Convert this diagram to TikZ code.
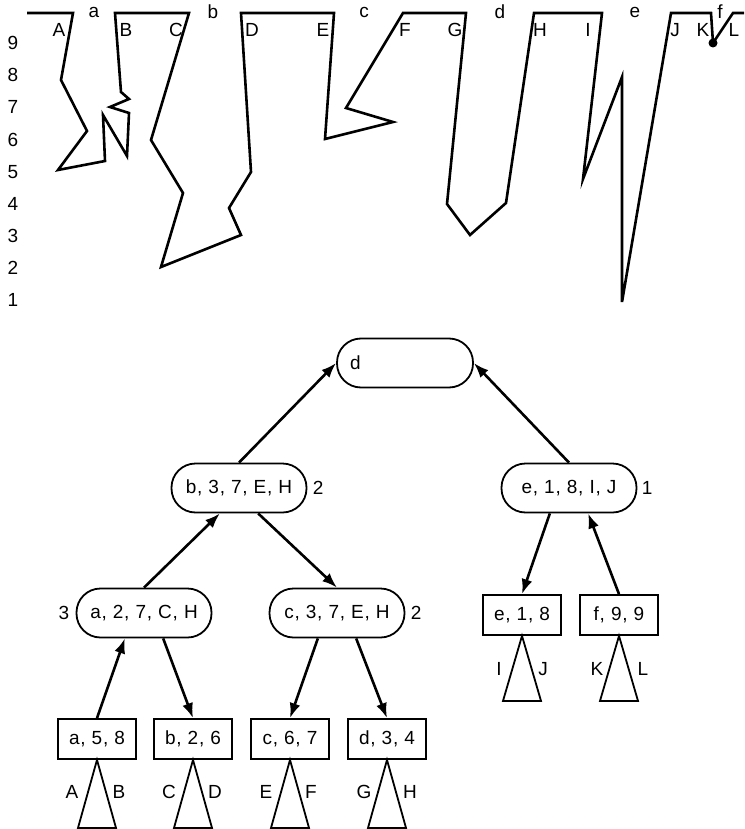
\documentclass[tikz,border=0pt]{standalone}
\usepackage{fontspec}
\setmainfont{Liberation Sans}[LetterSpace=4]
\usepackage{tikz}
\usetikzlibrary{arrows.meta}
\tikzset{
         profile/.style={line width=2.6pt,line join=miter},
         oval/.style={draw,line width=1.8pt,rounded corners=24pt,minimum width=135pt,minimum height=49pt},
         leafbox/.style={draw,line width=1.8pt,minimum width=78pt,minimum height=40pt,inner sep=2pt},
         link/.style={line width=2.6pt,-{Latex[length=15pt,width=11pt]}},
         fan/.style={line width=1.8pt}
        }

\begin{document}
\begin{tikzpicture}[x=1pt,y=-1pt,font=\fontsize{19}{22}\selectfont]
\useasboundingbox (0,0) rectangle (744,829);
% terrain profile
\draw[profile](27,13)--(73,13)--(61,80)--(87,131)--(58,170)--(105,161)--(103,115)--(127,156)
  --(129,113)--(110,107)--(129,99)--(121,92)--(115,13)--(189,13)--(151,140)--(183,193)
  --(161,267)--(241,235)--(229,208)--(251,172)--(241,13)--(334,13)--(325,139)--(393,122)
  --(346,108)--(403,13)--(466,13)--(447,204)--(470,235)--(506,203)--(534,13)--(602,13)
  --(583,179)--(622,77)--(622,302)--(671,13)--(711,13)--(713,43)--(733,13)--(744,13);
\fill(713,43) circle (4.5);
% heights
\node(h9) at (13,43){9};
\node(h8) at (13,75){8};
\node(h7) at (13,107){7};
\node(h6) at (13,140){6};
\node(h5) at (13,172){5};
\node(h4) at (13,204){4};
\node(h3) at (13,236){3};
\node(h2) at (13,268){2};
\node(h1) at (13,300){1};
% pieces
\node(pa) at (94,12){a};
\node(pb) at (213,12){b};
\node(pc) at (364,12){c};
\node(pd) at (500,12){d};
\node(pe) at (635,12){e};
\node(pf) at (720,12){f};
% corners
\node(cA) at (59,30){A};
\node(cB) at (126,30){B};
\node(cC) at (176,30){C};
\node(cD) at (252,30){D};
\node(cE) at (323,30){E};
\node(cF) at (405,30){F};
\node(cG) at (455,30){G};
\node(cH) at (540,30){H};
\node(cI) at (588,30){I};
\node(cJ) at (675,30){J};
\node(cK) at (703,30){K};
\node(cL) at (734,30){L};
% tree
\node[oval,text width=110pt,align=left,inner xsep=13pt] (root) at (405,363){d};
\node[oval,label={[label distance=2pt]right:2}] (bn) at (239,488){b, 3, 7, E, H};
\node[oval,label={[label distance=1pt]right:1}] (en) at (569,488){e, 1, 8, I, J};
\node[oval,label={[label distance=3pt]left:3}] (an) at (144,613){a, 2, 7, C, H};
\node[oval,label={[label distance=2pt]right:2}] (cn) at (337,613){c, 3, 7, E, H};
\node[leafbox] (a58) at (97,739){a, 5, 8};
\node[leafbox] (b26) at (193,739){b, 2, 6};
\node[leafbox] (c67) at (290,739){c, 6, 7};
\node[leafbox] (d34) at (387,739){d, 3, 4};
\node[leafbox] (e18) at (522,615){e, 1, 8};
\node[leafbox] (f99) at (619,615){f, 9, 9};
\draw[link](bn.north)--(root.west);
\draw[link](en.north)--(root.east);
\draw[link](an.north)--(bn.233);
\draw[link](bn.307)--(cn.north);
\draw[link](a58.north)--(an.233);
\draw[link](an.307)--(b26.north);
\draw[link](cn.233)--(c67.north);
\draw[link](cn.307)--(d34.north);
\draw[link](en.233)--(e18.north);
\draw[link](f99.north)--(en.307);
% subtrees
\draw[fan](a58.south)--++(-19,68)--++(38,0)--cycle;
\draw[fan](b26.south)--++(-19,68)--++(38,0)--cycle;
\draw[fan](c67.south)--++(-19,68)--++(38,0)--cycle;
\draw[fan](d34.south)--++(-19,68)--++(38,0)--cycle;
\draw[fan](e18.south)--++(-19,65)--++(38,0)--cycle;
\draw[fan](f99.south)--++(-19,65)--++(38,0)--cycle;
\node(tA) at (72,792){A};
\node(tB) at (119,792){B};
\node(tC) at (169,792){C};
\node(tD) at (215,792){D};
\node(tE) at (266,792){E};
\node(tF) at (311,792){F};
\node(tG) at (364,792){G};
\node(tH) at (410,792){H};
\node(tI) at (499,669){I};
\node(tJ) at (543,669){J};
\node(tK) at (597,669){K};
\node(tL) at (643,669){L};
\end{tikzpicture}
\end{document}
